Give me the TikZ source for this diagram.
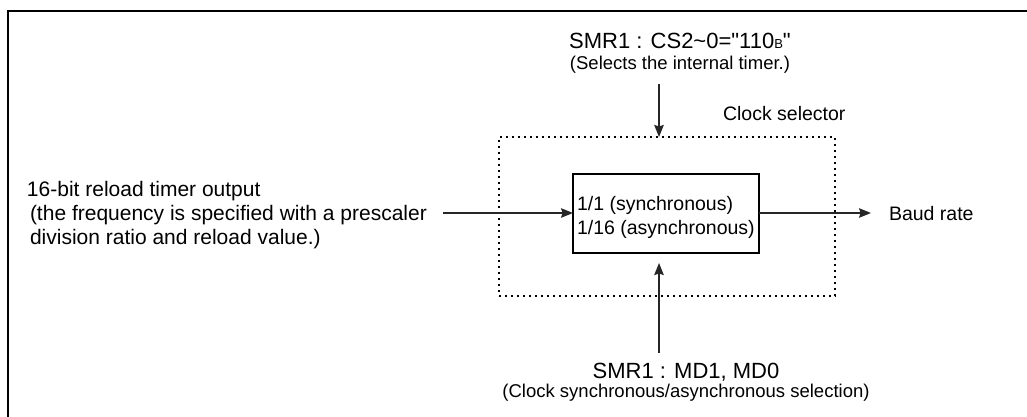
\documentclass[tikz,border=0pt]{standalone}
\usepackage{fontspec}
\setmainfont{Liberation Sans}[Ligatures=TeXOff]
\usetikzlibrary{arrows.meta}
\begin{document}
\begin{tikzpicture}[x=1pt,y=-1pt,
  txt/.style={inner sep=0pt, outer sep=0pt, font=\fontsize{19.5}{23}\selectfont},
  big/.style={txt, font=\fontsize{22}{24}\selectfont},
  note/.style={txt, font=\fontsize{18.5}{22}\selectfont},
  lefttxt/.style={txt, anchor=base west, font=\fontsize{21}{24}\selectfont},
  arr/.style={line width=1.3pt, draw=black!85, -{Stealth[length=12pt,width=9.5pt,inset=1.5pt]}},
  selbox/.style={draw, line width=1.5pt, dash pattern=on 1.8pt off 4.2pt, inner sep=0pt, outer sep=0pt},
  divbox/.style={draw, line width=2.5pt, inner sep=0pt, outer sep=0pt}]
\useasboundingbox (0,0) rectangle (1027,417);
% frame
\draw[line width=2.6pt, line join=miter] (8,420) -- (8,11) -- (1030,11);
% top label
\node[big, anchor=base] (cs) at (680,49) {SMR1 : CS2\textasciitilde 0="110{\fontsize{13}{13}\selectfont B}"};
\node[note, anchor=base] (csn) at (680,70) {(Selects the internal timer.)};
% clock selector box
\node[selbox, minimum width=336pt, minimum height=159pt] (sel) at (667,216.5) {};
\node[txt, anchor=base west] (cl) at (723,121) {Clock selector};
% divider box
\node[divbox, minimum width=186pt, minimum height=79pt] (div) at (666,213.5) {};
\node[txt, anchor=base west] (d1) at (577,210) {1/1 (synchronous)};
\node[txt, anchor=base west] (d2) at (577,234) {1/16 (asynchronous)};
% left text
\node[lefttxt] (r1) at (27,196) {16-bit reload timer output};
\node[lefttxt] (r2) at (30,220) {(the frequency is specified with a prescaler};
\node[lefttxt] (r3) at (30,244) {division ratio and reload value.)};
% right text
\node[txt, anchor=base west] (baud) at (889,220) {Baud rate};
% bottom text
\node[big, anchor=base] (md) at (686,378) {SMR1 : MD1, MD0};
\node[note, anchor=base] (mdn) at (686,397) {(Clock synchronous/asynchronous selection)};
% connectors
\coordinate (topA) at (659,84);
\draw[arr] (topA) -- (topA |- sel.north);
\coordinate (inA) at (443,213);
\draw[arr] (inA) -- (inA -| div.west);
\coordinate (outB) at (871,213);
\draw[arr] (div.east |- outB) -- (outB);
\coordinate (botA) at (659,353);
\path (div.south -| botA) ++(0,10) coordinate (botT);
\draw[arr] (botA) -- (botT);
\end{tikzpicture}
\end{document}
